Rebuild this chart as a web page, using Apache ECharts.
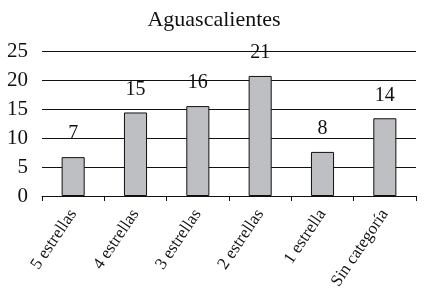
<!DOCTYPE html>
<html>
<head>
<meta charset="utf-8">
<script src="https://cdn.jsdelivr.net/npm/echarts@6/dist/echarts.min.js"></script>
<style>
  html, body { margin: 0; padding: 0; background: #fff; }
  #root { width: 428px; height: 305px; }
</style>
</head>
<body>
<div id="root"></div>
<script>
  const categories = ['5 estrellas', '4 estrellas', '3 estrellas', '2 estrellas', '1 estrella', 'Sin categoría'];
  // bar heights as drawn, labels as printed
  const values = [6.7, 14.4, 15.5, 20.7, 7.6, 13.4];
  const valueLabels = ['7', '15', '16', '21', '8', '14'];
  const yTicks = [0, 5, 10, 15, 20, 25];

  const font = '"Liberation Serif", "Times New Roman", serif';
  const chart = echarts.init(document.getElementById('root'), null, { renderer: 'canvas' });

  chart.setOption({
    animation: false,
    title: {
      text: 'Aguascalientes',
      left: 'center',
      top: 4,
      textStyle: { fontFamily: font, fontSize: 22, fontWeight: 'normal', color: '#111' }
    },
    grid: { left: 42, right: 12, top: 51, bottom: 109 },
    xAxis: {
      type: 'category',
      data: categories,
      axisLine: { lineStyle: { color: '#111', width: 1 } },
      axisTick: { show: true, length: 5, lineStyle: { color: '#111' } },
      axisLabel: {
        interval: 0,
        rotate: 56,
        margin: 15,
        fontFamily: font,
        fontSize: 17,
        color: '#111'
      }
    },
    yAxis: {
      type: 'value',
      min: yTicks[0],
      max: yTicks[yTicks.length - 1],
      interval: 5,
      axisLine: { show: false },
      axisTick: { show: false },
      splitLine: { lineStyle: { color: '#111', width: 1 } },
      axisLabel: { fontFamily: font, fontSize: 21, color: '#111', margin: 14 }
    },
    series: [{
      type: 'bar',
      data: values,
      barWidth: '37%',
      itemStyle: { color: '#bebfc3', borderColor: '#111', borderWidth: 1 },
      label: {
        show: true,
        position: 'top',
        distance: 13,
        fontFamily: font,
        fontSize: 20,
        color: '#111',
        formatter: p => valueLabels[p.dataIndex]
      }
    }]
  });
</script>
</body>
</html>
